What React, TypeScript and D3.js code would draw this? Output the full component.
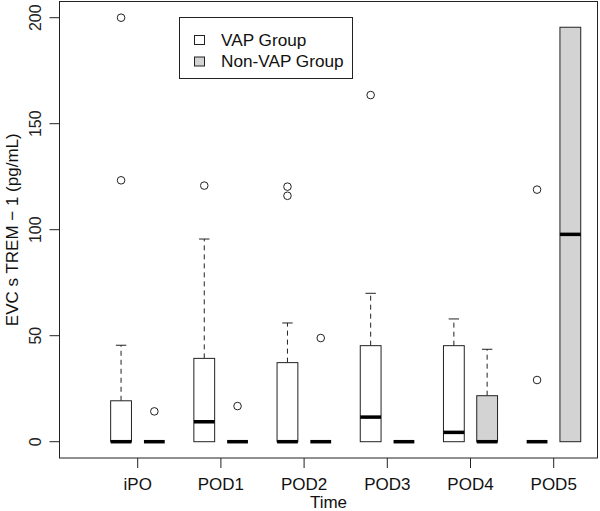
import React, { useRef, useEffect } from 'react';
import * as d3 from 'd3';

// box stats (pg/mL)
const categories = ['iPO', 'POD1', 'POD2', 'POD3', 'POD4', 'POD5'];
const vapQ1 = [0, 0, 0, 0, 0, 0];
const vapMedian = [0, 9.4, 0, 11.6, 4.4, 0];
const vapQ3 = [19.3, 39.3, 37.3, 45.3, 45.3, 0];
const vapWhiskerHigh = [45.5, 95.6, 56, 70, 57.9, 0];
const vapOutliers = [[123.3, 200], [120.8], [116, 120.3], [163.5], [], [29.1, 118.9]];
const nonVapQ1 = [0, 0, 0, 0, 0, 0];
const nonVapMedian = [0, 0, 0, 0, 0, 97.8];
const nonVapQ3 = [0, 0, 0, 0, 21.7, 195.5];
const nonVapWhiskerHigh = [0, 0, 0, 0, 43.6, 195.5];
const nonVapOutliers = [[14.3], [16.8], [48.9], [], [], []];
const yTicks = [0, 50, 100, 150, 200];
const legendLabels = ['VAP Group', 'Non-VAP Group'];
const groupFills = ['#ffffff', '#d3d3d3'];

const App: React.FC = () => {
  const svgRef = useRef<SVGSVGElement | null>(null);

  useEffect(() => {
    const svg = d3.select(svgRef.current);
    svg.selectAll('*').remove();

    const width = 600;
    const height = 511;
    const plot = { left: 59.5, right: 597.5, top: 1.5, bottom: 458 };
    const font = 'Liberation Sans, Arial, Helvetica, sans-serif';
    const ink = '#222';

    svg.attr('width', width).attr('height', height);

    const x = d3.scaleLinear().domain([1, 6]).range([137.7, 553.7]);
    const y = d3.scaleLinear().domain([0, 200]).range([441.7, 17.7]);
    const offset = 0.2;
    const boxW = x(1.25) - x(1);

    const groups = [
      { q1: vapQ1, med: vapMedian, q3: vapQ3, hi: vapWhiskerHigh, out: vapOutliers, shift: -offset, fill: groupFills[0] },
      { q1: nonVapQ1, med: nonVapMedian, q3: nonVapQ3, hi: nonVapWhiskerHigh, out: nonVapOutliers, shift: offset, fill: groupFills[1] },
    ];

    groups.forEach((g) => {
      categories.forEach((_, i) => {
        const cx = x(i + 1 + g.shift);
        const b = svg.append('g');
        // upper whisker
        if (g.hi[i] > g.q3[i]) {
          b.append('line')
            .attr('x1', cx).attr('x2', cx)
            .attr('y1', y(g.q3[i])).attr('y2', y(g.hi[i]))
            .attr('stroke', ink).attr('stroke-dasharray', '5,4');
          b.append('line')
            .attr('x1', cx - boxW / 4).attr('x2', cx + boxW / 4)
            .attr('y1', y(g.hi[i])).attr('y2', y(g.hi[i]))
            .attr('stroke', ink);
        }
        b.append('rect')
          .attr('x', cx - boxW / 2)
          .attr('y', y(g.q3[i]))
          .attr('width', boxW)
          .attr('height', y(g.q1[i]) - y(g.q3[i]))
          .attr('fill', g.fill)
          .attr('stroke', ink);
        b.append('line')
          .attr('x1', cx - boxW / 2).attr('x2', cx + boxW / 2)
          .attr('y1', y(g.med[i])).attr('y2', y(g.med[i]))
          .attr('stroke', '#000').attr('stroke-width', 3.5);
        b.selectAll('circle')
          .data(g.out[i])
          .enter()
          .append('circle')
          .attr('cx', cx)
          .attr('cy', (d) => y(d))
          .attr('r', 3.8)
          .attr('fill', 'none')
          .attr('stroke', ink);
      });
    });

    // frame
    svg.append('rect')
      .attr('x', plot.left).attr('y', plot.top)
      .attr('width', plot.right - plot.left).attr('height', plot.bottom - plot.top)
      .attr('fill', 'none').attr('stroke', ink);

    // y axis
    yTicks.forEach((t) => {
      svg.append('line')
        .attr('x1', plot.left - 10).attr('x2', plot.left)
        .attr('y1', y(t)).attr('y2', y(t))
        .attr('stroke', ink);
      svg.append('text')
        .attr('transform', `translate(41,${y(t)}) rotate(-90)`)
        .attr('text-anchor', 'middle')
        .attr('font-family', font).attr('font-size', 16)
        .attr('fill', ink)
        .text(t);
    });

    // x axis
    categories.forEach((c, i) => {
      svg.append('line')
        .attr('x1', x(i + 1)).attr('x2', x(i + 1))
        .attr('y1', plot.bottom).attr('y2', plot.bottom + 10)
        .attr('stroke', ink);
      svg.append('text')
        .attr('x', x(i + 1)).attr('y', 490)
        .attr('text-anchor', 'middle')
        .attr('font-family', font).attr('font-size', 17)
        .attr('fill', '#111')
        .text(c);
    });

    svg.append('text')
      .attr('x', (plot.left + plot.right) / 2).attr('y', 508)
      .attr('text-anchor', 'middle')
      .attr('font-family', font).attr('font-size', 17)
      .attr('fill', '#111')
      .text('Time');

    svg.append('text')
      .attr('transform', `translate(18,${(plot.top + plot.bottom) / 2}) rotate(-90)`)
      .attr('text-anchor', 'middle')
      .attr('font-family', font).attr('font-size', 17)
      .attr('fill', '#111')
      .text('EVC s TREM \u2212 1 (pg/mL)');

    // legend
    const lg = svg.append('g');
    lg.append('rect')
      .attr('x', 179.5).attr('y', 17.5).attr('width', 173).attr('height', 61)
      .attr('fill', '#fff').attr('stroke', ink);
    legendLabels.forEach((l, i) => {
      const cy = 40 + i * 21.5;
      lg.append('rect')
        .attr('x', 194.5).attr('y', cy - 4.5).attr('width', 10).attr('height', 9)
        .attr('fill', groupFills[i]).attr('stroke', ink);
      lg.append('text')
        .attr('x', 221).attr('y', cy + 5.5)
        .attr('font-family', font).attr('font-size', 17.2)
        .attr('fill', '#111')
        .text(l);
    });
  }, []);

  return <svg ref={svgRef} style={{ position: 'absolute', left: 0, top: 0 }}></svg>;
};

export default App;
